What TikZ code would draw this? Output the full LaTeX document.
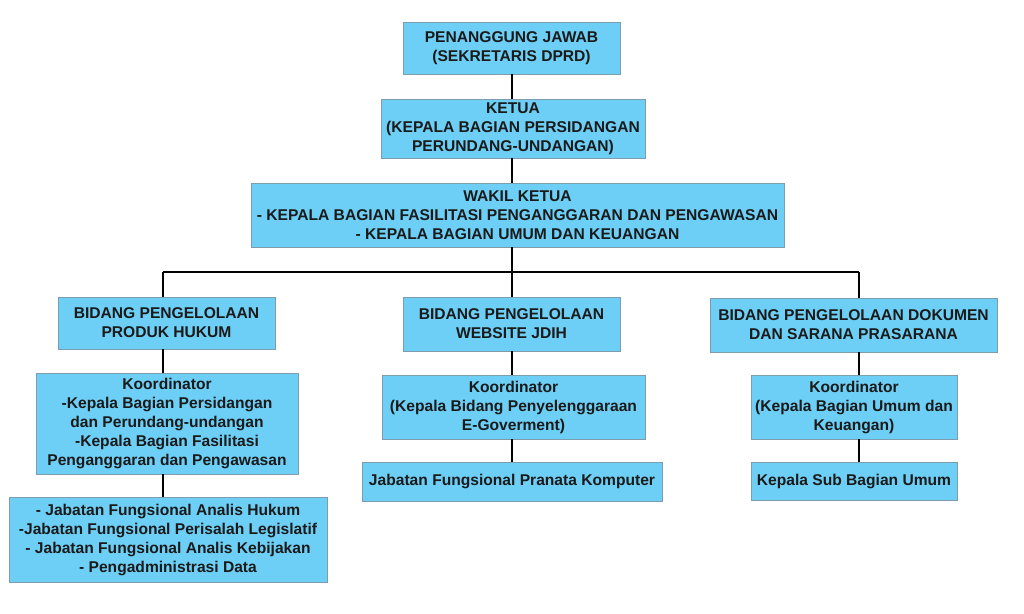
\documentclass[tikz,border=0pt]{standalone}
\usepackage{fontspec}
\setmainfont{Liberation Sans}
\definecolor{boxblue}{HTML}{6DCFF6}
\definecolor{boxline}{HTML}{7E9CAE}
\definecolor{txt}{HTML}{1A1A1A}
\begin{document}
\begin{tikzpicture}[x=1pt,y=-1pt,
  box/.style={draw=boxline, line width=0.8pt, fill=boxblue, align=center, inner sep=0pt,
    text=txt, font=\fontsize{15.6}{19}\selectfont\bfseries},
  conn/.style={draw=black, line width=1.4pt},
  bus/.style={draw=black, line width=2pt}]
\useasboundingbox (0,0) rectangle (1024,613);
\fill[white] (0,0) rectangle (1024,613);

\node[box, minimum width=217pt, minimum height=52pt] (b1) at (511.5,48)
  {PENANGGUNG JAWAB\\(SEKRETARIS DPRD)};
\node[box, minimum width=264pt, minimum height=59pt] (b2) at (513,128.5)
  {KETUA\\(KEPALA BAGIAN PERSIDANGAN\\PERUNDANG-UNDANGAN)};
\node[box, minimum width=533pt, minimum height=64pt] (b3) at (517.5,215)
  {WAKIL KETUA\\- KEPALA BAGIAN FASILITASI PENGANGGARAN DAN PENGAWASAN\\- KEPALA BAGIAN UMUM DAN KEUANGAN};

\node[box, minimum width=217pt, minimum height=52pt] (b4) at (166.5,323)
  {BIDANG PENGELOLAAN\\PRODUK HUKUM};
\node[box, minimum width=262pt, minimum height=101pt] (b5) at (167,423.5)
  {Koordinator\\-Kepala Bagian Persidangan\\dan Perundang-undangan\\-Kepala Bagian Fasilitasi\\Penganggaran dan Pengawasan};
\node[box, minimum width=318pt, minimum height=85pt] (b6) at (168,539.5)
  {- Jabatan Fungsional Analis Hukum\\-Jabatan Fungsional Perisalah Legislatif\\- Jabatan Fungsional Analis Kebijakan\\- Pengadministrasi Data};

\node[box, minimum width=217pt, minimum height=54pt] (b7) at (511.5,324)
  {BIDANG PENGELOLAAN\\WEBSITE JDIH};
\node[box, minimum width=263pt, minimum height=64pt] (b8) at (513.5,407)
  {Koordinator\\(Kepala Bidang Penyelenggaraan\\E-Goverment)};
\node[box, minimum width=300pt, minimum height=39pt] (b9) at (512,481.5)
  {Jabatan Fungsional Pranata Komputer};

\node[box, minimum width=287pt, minimum height=54pt] (b10) at (853.5,325)
  {BIDANG PENGELOLAAN DOKUMEN\\DAN SARANA PRASARANA};
\node[box, minimum width=206pt, minimum height=64pt] (b11) at (854,407)
  {Koordinator\\(Kepala Bagian Umum dan\\Keuangan)};
\node[box, minimum width=206pt, minimum height=38pt] (b12) at (854,481)
  {Kepala Sub Bagian Umum};

\coordinate (cm) at (512,272);
\coordinate (cl) at (163,272);
\coordinate (cr) at (859,272);

\draw[conn] (b1.south -| cm) -- (b2.north -| cm);
\draw[conn] (b2.south -| cm) -- (b3.north -| cm);
\draw[conn] (b3.south -| cm) -- (cm);
\draw[bus] (cl) -- (cr);
\draw[conn] (cl) -- (b4.north -| cl);
\draw[conn] (cm) -- (b7.north -| cm);
\draw[conn] (cr) -- (b10.north -| cr);
\draw[conn] (b4.south -| cl) -- (b5.north -| cl);
\draw[conn] (b5.south -| cl) -- (b6.north -| cl);
\draw[conn] (b7.south -| cm) -- (b8.north -| cm);
\draw[conn] (b8.south -| cm) -- (b9.north -| cm);
\draw[conn] (b10.south -| cr) -- (b11.north -| cr);
\draw[conn] (b11.south -| cr) -- (b12.north -| cr);
\end{tikzpicture}
\end{document}
